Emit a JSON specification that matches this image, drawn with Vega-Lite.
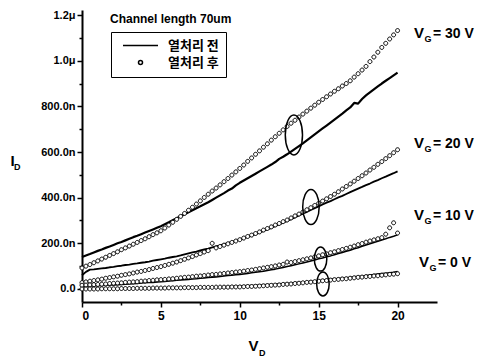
{
"$schema": "https://vega.github.io/schema/vega-lite/v6.json",
"width": 355, "height": 292,
"autosize": {"type": "none"},
"padding": {"left": 82, "top": 10, "right": 47, "bottom": 61},
"background": "white",
"title": {"text": "Channel length 70um", "anchor": "start", "frame": "group", "offset": -12, "dx": 28, "dy": 14, "baseline": "alphabetic", "font": "Liberation Sans", "fontSize": 12, "fontWeight": "bold", "color": "black"},
"datasets": {
"curves": [
{"v":0,"a30":92,"a20":28,"a10":16,"a0":0,"b30":140,"b20":60,"b10":10,"b0":0},
{"v":0.25,"a30":100,"a20":31,"a10":17,"a0":0,"b30":147,"b20":75,"b10":11,"b0":0},
{"v":0.5,"a30":107,"a20":34,"a10":18,"a0":0,"b30":153,"b20":85,"b10":12,"b0":1},
{"v":0.75,"a30":115,"a20":37,"a10":19,"a0":0,"b30":160,"b20":86,"b10":13,"b0":1},
{"v":1,"a30":123,"a20":40,"a10":20,"a0":0,"b30":167,"b20":88,"b10":14,"b0":1},
{"v":1.25,"a30":131,"a20":43,"a10":21,"a0":1,"b30":173,"b20":90,"b10":15,"b0":1},
{"v":1.5,"a30":139,"a20":47,"a10":22,"a0":1,"b30":180,"b20":92,"b10":16,"b0":2},
{"v":1.75,"a30":147,"a20":50,"a10":24,"a0":1,"b30":186,"b20":95,"b10":17,"b0":2},
{"v":2,"a30":155,"a20":53,"a10":25,"a0":1,"b30":193,"b20":97,"b10":18,"b0":2},
{"v":2.25,"a30":163,"a20":56,"a10":26,"a0":1,"b30":200,"b20":100,"b10":19,"b0":2},
{"v":2.5,"a30":172,"a20":60,"a10":27,"a0":2,"b30":206,"b20":102,"b10":20,"b0":3},
{"v":2.75,"a30":180,"a20":63,"a10":29,"a0":2,"b30":213,"b20":105,"b10":21,"b0":3},
{"v":3,"a30":188,"a20":66,"a10":30,"a0":2,"b30":220,"b20":107,"b10":22,"b0":3},
{"v":3.25,"a30":196,"a20":70,"a10":31,"a0":2,"b30":227,"b20":110,"b10":23,"b0":3},
{"v":3.5,"a30":204,"a20":74,"a10":32,"a0":3,"b30":233,"b20":112,"b10":24,"b0":4},
{"v":3.75,"a30":212,"a20":77,"a10":34,"a0":3,"b30":240,"b20":115,"b10":26,"b0":4},
{"v":4,"a30":220,"a20":81,"a10":35,"a0":3,"b30":247,"b20":117,"b10":27,"b0":4},
{"v":4.25,"a30":229,"a20":85,"a10":37,"a0":3,"b30":254,"b20":120,"b10":28,"b0":4},
{"v":4.5,"a30":238,"a20":90,"a10":38,"a0":4,"b30":261,"b20":124,"b10":29,"b0":5},
{"v":4.75,"a30":246,"a20":94,"a10":40,"a0":4,"b30":268,"b20":127,"b10":31,"b0":5},
{"v":5,"a30":255,"a20":98,"a10":41,"a0":4,"b30":275,"b20":130,"b10":32,"b0":5},
{"v":5.25,"a30":267,"a20":103,"a10":42,"a0":4,"b30":284,"b20":133,"b10":33,"b0":5},
{"v":5.5,"a30":280,"a20":108,"a10":44,"a0":5,"b30":292,"b20":137,"b10":35,"b0":6},
{"v":5.75,"a30":292,"a20":113,"a10":45,"a0":5,"b30":301,"b20":140,"b10":36,"b0":6},
{"v":6,"a30":305,"a20":118,"a10":47,"a0":5,"b30":310,"b20":143,"b10":38,"b0":6},
{"v":6.25,"a30":318,"a20":124,"a10":49,"a0":5,"b30":319,"b20":147,"b10":39,"b0":7},
{"v":6.5,"a30":331,"a20":130,"a10":51,"a0":6,"b30":327,"b20":152,"b10":41,"b0":7},
{"v":6.75,"a30":345,"a20":136,"a10":52,"a0":6,"b30":336,"b20":156,"b10":42,"b0":8},
{"v":7,"a30":358,"a20":142,"a10":54,"a0":6,"b30":345,"b20":160,"b10":44,"b0":8},
{"v":7.25,"a30":372,"a20":149,"a10":56,"a0":6,"b30":354,"b20":164,"b10":45,"b0":8},
{"v":7.5,"a30":386,"a20":155,"a10":57,"a0":7,"b30":362,"b20":169,"b10":47,"b0":9},
{"v":7.75,"a30":401,"a20":162,"a10":59,"a0":7,"b30":371,"b20":173,"b10":48,"b0":9},
{"v":8,"a30":415,"a20":168,"a10":61,"a0":7,"b30":380,"b20":177,"b10":50,"b0":10},
{"v":8.25,"a30":429,"a20":200,"a10":63,"a0":7,"b30":390,"b20":182,"b10":52,"b0":10},
{"v":8.5,"a30":442,"a20":180,"a10":64,"a0":8,"b30":400,"b20":187,"b10":53,"b0":11},
{"v":8.75,"a30":456,"a20":186,"a10":66,"a0":8,"b30":410,"b20":191,"b10":55,"b0":11},
{"v":9,"a30":470,"a20":192,"a10":68,"a0":8,"b30":420,"b20":196,"b10":57,"b0":12},
{"v":9.25,"a30":484,"a20":198,"a10":70,"a0":8,"b30":431,"b20":201,"b10":59,"b0":12},
{"v":9.5,"a30":499,"a20":204,"a10":72,"a0":9,"b30":440,"b20":206,"b10":60,"b0":13},
{"v":9.75,"a30":513,"a20":210,"a10":74,"a0":9,"b30":454,"b20":211,"b10":62,"b0":13},
{"v":10,"a30":528,"a20":216,"a10":76,"a0":9,"b30":465,"b20":216,"b10":64,"b0":14},
{"v":10.25,"a30":543,"a20":223,"a10":78,"a0":10,"b30":475,"b20":222,"b10":66,"b0":15},
{"v":10.5,"a30":559,"a20":230,"a10":81,"a0":11,"b30":485,"b20":228,"b10":68,"b0":16},
{"v":10.75,"a30":574,"a20":236,"a10":83,"a0":11,"b30":495,"b20":234,"b10":71,"b0":16},
{"v":11,"a30":590,"a20":243,"a10":86,"a0":12,"b30":505,"b20":240,"b10":73,"b0":17},
{"v":11.25,"a30":605,"a20":250,"a10":89,"a0":13,"b30":515,"b20":247,"b10":76,"b0":18},
{"v":11.5,"a30":621,"a20":258,"a10":92,"a0":14,"b30":525,"b20":254,"b10":78,"b0":19},
{"v":11.75,"a30":636,"a20":265,"a10":95,"a0":15,"b30":535,"b20":261,"b10":81,"b0":20},
{"v":12,"a30":652,"a20":272,"a10":98,"a0":16,"b30":545,"b20":268,"b10":84,"b0":21},
{"v":12.25,"a30":667,"a20":280,"a10":101,"a0":17,"b30":556,"b20":276,"b10":87,"b0":22},
{"v":12.5,"a30":682,"a20":287,"a10":105,"a0":18,"b30":570,"b20":283,"b10":91,"b0":24},
{"v":12.75,"a30":697,"a20":295,"a10":108,"a0":20,"b30":579,"b20":291,"b10":94,"b0":25},
{"v":13,"a30":712,"a20":302,"a10":118,"a0":21,"b30":590,"b20":298,"b10":98,"b0":26},
{"v":13.25,"a30":726,"a20":311,"a10":116,"a0":22,"b30":602,"b20":306,"b10":102,"b0":27},
{"v":13.5,"a30":739,"a20":320,"a10":120,"a0":24,"b30":614,"b20":314,"b10":106,"b0":29},
{"v":13.75,"a30":753,"a20":328,"a10":124,"a0":25,"b30":626,"b20":322,"b10":110,"b0":30},
{"v":14,"a30":766,"a20":337,"a10":128,"a0":27,"b30":638,"b20":330,"b10":114,"b0":31},
{"v":14.25,"a30":779,"a20":347,"a10":132,"a0":29,"b30":651,"b20":338,"b10":118,"b0":33},
{"v":14.5,"a30":792,"a20":356,"a10":136,"a0":30,"b30":664,"b20":346,"b10":123,"b0":35},
{"v":14.75,"a30":805,"a20":366,"a10":141,"a0":32,"b30":677,"b20":354,"b10":127,"b0":36},
{"v":15,"a30":818,"a20":375,"a10":145,"a0":34,"b30":690,"b20":362,"b10":132,"b0":38},
{"v":15.25,"a30":830,"a20":385,"a10":150,"a0":36,"b30":703,"b20":370,"b10":136,"b0":40},
{"v":15.5,"a30":842,"a20":395,"a10":154,"a0":37,"b30":716,"b20":378,"b10":141,"b0":42},
{"v":15.75,"a30":854,"a20":405,"a10":159,"a0":39,"b30":729,"b20":385,"b10":145,"b0":43},
{"v":16,"a30":866,"a20":415,"a10":163,"a0":41,"b30":742,"b20":393,"b10":150,"b0":45},
{"v":16.25,"a30":877,"a20":426,"a10":168,"a0":42,"b30":755,"b20":401,"b10":155,"b0":47},
{"v":16.5,"a30":889,"a20":438,"a10":173,"a0":44,"b30":768,"b20":408,"b10":160,"b0":49},
{"v":16.75,"a30":900,"a20":449,"a10":178,"a0":45,"b30":782,"b20":416,"b10":165,"b0":50},
{"v":17,"a30":912,"a20":460,"a10":183,"a0":47,"b30":795,"b20":424,"b10":170,"b0":52},
{"v":17.25,"a30":928,"a20":472,"a10":188,"a0":49,"b30":815,"b20":432,"b10":176,"b0":54},
{"v":17.5,"a30":943,"a20":484,"a10":194,"a0":51,"b30":812,"b20":440,"b10":181,"b0":56},
{"v":17.75,"a30":959,"a20":496,"a10":199,"a0":52,"b30":832,"b20":447,"b10":187,"b0":58},
{"v":18,"a30":975,"a20":508,"a10":205,"a0":54,"b30":848,"b20":455,"b10":193,"b0":60},
{"v":18.25,"a30":996,"a20":521,"a10":210,"a0":55,"b30":861,"b20":462,"b10":198,"b0":62},
{"v":18.5,"a30":1016,"a20":533,"a10":215,"a0":57,"b30":874,"b20":470,"b10":204,"b0":64},
{"v":18.75,"a30":1037,"a20":546,"a10":220,"a0":58,"b30":887,"b20":477,"b10":209,"b0":66},
{"v":19,"a30":1058,"a20":558,"a10":225,"a0":60,"b30":900,"b20":485,"b10":215,"b0":68},
{"v":19.25,"a30":1076,"a20":571,"a10":240,"a0":62,"b30":912,"b20":492,"b10":220,"b0":70},
{"v":19.5,"a30":1095,"a20":584,"a10":268,"a0":64,"b30":924,"b20":500,"b10":226,"b0":72},
{"v":19.75,"a30":1113,"a20":597,"a10":290,"a0":65,"b30":936,"b20":507,"b10":231,"b0":74},
{"v":20,"a30":1132,"a20":610,"a10":245,"a0":67,"b30":948,"b20":515,"b10":237,"b0":77}
],
"ell": [
{"v":13.43,"i":675,"e":"a"},
{"v":14.51,"i":359,"e":"b"},
{"v":15.12,"i":131,"e":"c"},
{"v":15.27,"i":22,"e":"c"}
],
"lab": [
{"v":21.04,"i":1099,"t":"= 30 V"},
{"v":21.04,"i":617,"t":"= 20 V"},
{"v":21.04,"i":302,"t":"= 10 V"},
{"v":21.36,"i":96,"t":"= 0 V"}
],
"sub": [
{"v":11.22,"i":-293},
{"v":-4.31,"i":521}
]
},
"encoding": {
"x": {"field": "v", "type": "quantitative", "scale": {"domain": [0, 22.5], "nice": false, "zero": false},
 "axis": {"values": [0,2.5,5,7.5,10,12.5,15,17.5,20], "labelExpr": "datum.value % 5 === 0 ? datum.label : ''",
  "tickSize": {"condition": {"test": "datum.value % 5 === 0", "value": 5}, "value": 3},
  "labelFontSize": 12, "labelPadding": 3, "title": "V", "titleX": 166, "titleY": 48, "titleAlign": "left", "titleBaseline": "alphabetic", "titleFontSize": 15}},
"y": {"field": "i", "type": "quantitative", "scale": {"domain": [-57, 1222], "nice": false, "zero": false},
 "axis": {"values": [0,100,200,300,400,500,600,700,800,900,1000,1100,1200],
  "labelExpr": "datum.value % 200 !== 0 ? '' : (datum.value >= 1000 ? format(datum.value/1000, '.1f') + 'μ' : (datum.value === 0 ? '0.0' : format(datum.value, '.1f') + 'n'))",
  "tickSize": {"condition": {"test": "datum.value % 200 === 0", "value": 5}, "value": 3},
  "labelFontSize": 11, "labelPadding": 2, "title": "I", "titleAngle": 0, "titleX": -72, "titleY": 155, "titleAlign": "left", "titleBaseline": "alphabetic", "titleFontSize": 15}}
},
"layer": [
{"data": {"name": "curves"}, "transform": [{"fold": ["b30","b20","b10","b0"], "as": ["k","i"]}],
 "mark": {"type": "line", "color": "black", "strokeJoin": "round"},
 "encoding": {"detail": {"field": "k"}, "strokeWidth": {"field": "k", "type": "nominal", "scale": {"domain": ["b30","b20","b10","b0"], "range": [2.2, 1.2, 4.5, 3]}, "legend": null}}},
{"data": {"name": "curves"}, "transform": [{"fold": ["a30","a20","a10","a0"], "as": ["k","i"]}],
 "mark": {"type": "point", "filled": true, "fill": "white", "stroke": "black", "strokeWidth": 1, "size": 100, "opacity": 1},
 "encoding": {"shape": {"datum": "열처리 후", "type": "nominal",
   "scale": {"domain": ["열처리 전","열처리 후"], "range": ["M-3.5,0H3.5", "M-0.4,0A0.4,0.4 0 1,0 0.4,0A0.4,0.4 0 1,0 -0.4,0Z"]},
   "legend": {"title": null, "orient": "none", "legendX": 29, "legendY": 22, "strokeColor": "black", "padding": 7, "symbolOffset": 16, "labelOffset": 21, "rowPadding": 3, "symbolSize": 100,
     "labelFont": "Noto Sans CJK KR", "labelFontSize": 13, "labelFontWeight": "bold", "labelColor": "black",
     "encode": {"legend": {"update": {"strokeWidth": {"value": 1.2}}},
       "symbols": {"update": {"stroke": {"value": "black"}, "fill": {"value": "white"}, "opacity": {"value": 1}, "size": {"value": 100}, "strokeWidth": {"signal": "datum.value === '열처리 전' ? 2.5 : 1"}}}}}}}},
{"data": {"name": "ell"}, "transform": [{"filter": "datum.e === 'a'"}],
 "mark": {"type": "point", "shape": "M0,-1A0.43,1 0 1,1 0,1A0.43,1 0 1,1 0,-1Z", "size": 1600, "filled": false, "stroke": "black", "strokeWidth": 1.5, "opacity": 1}},
{"data": {"name": "ell"}, "transform": [{"filter": "datum.e === 'b'"}],
 "mark": {"type": "point", "shape": "M0,-1A0.47,1 0 1,1 0,1A0.47,1 0 1,1 0,-1Z", "size": 1225, "filled": false, "stroke": "black", "strokeWidth": 1.5, "opacity": 1}},
{"data": {"name": "ell"}, "transform": [{"filter": "datum.e === 'c'"}],
 "mark": {"type": "point", "shape": "M0,-1A0.52,1 0 1,1 0,1A0.52,1 0 1,1 0,-1Z", "size": 576, "filled": false, "stroke": "black", "strokeWidth": 1.5, "opacity": 1}},
{"data": {"name": "lab"}, "mark": {"type": "text", "text": "V", "align": "left", "baseline": "alphabetic", "font": "Liberation Sans", "fontWeight": "bold", "fontSize": 15, "color": "black"}},
{"data": {"name": "lab"}, "mark": {"type": "text", "text": "G", "align": "left", "baseline": "alphabetic", "dx": 10.5, "dy": 4, "font": "Liberation Sans", "fontWeight": "bold", "fontSize": 9, "color": "black"}},
{"data": {"name": "lab"}, "mark": {"type": "text", "align": "left", "baseline": "alphabetic", "dx": 19, "font": "Liberation Sans", "fontWeight": "bold", "fontSize": 14, "color": "black"}, "encoding": {"text": {"field": "t"}}},
{"data": {"name": "sub"}, "mark": {"type": "text", "text": "D", "align": "left", "baseline": "alphabetic", "font": "Liberation Sans", "fontWeight": "bold", "fontSize": 9, "color": "black"}}
],
"config": {
"view": {"stroke": null},
"axis": {"grid": false, "domainColor": "black", "domainWidth": 2, "tickColor": "black", "tickWidth": 1.5, "labelColor": "black", "titleColor": "black",
 "labelFont": "Liberation Sans", "labelFontWeight": "bold", "titleFont": "Liberation Sans", "titleFontWeight": "bold"}
}
}
